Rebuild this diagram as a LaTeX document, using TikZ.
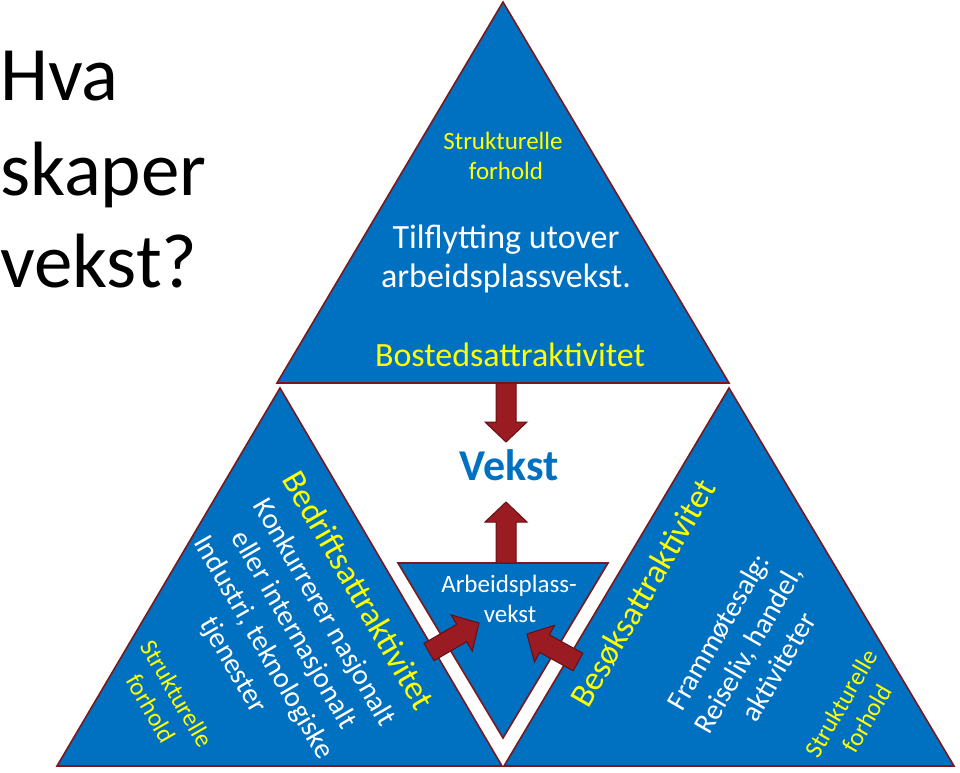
\documentclass[tikz,border=0pt]{standalone}
\usepackage{fontspec}
\setmainfont{Carlito}
\usetikzlibrary{calc}
\definecolor{triblue}{RGB}{0,112,192}
\definecolor{triedge}{RGB}{120,25,30}
\definecolor{arfill}{RGB}{155,27,35}
\definecolor{aredge}{RGB}{100,15,20}
\definecolor{ylw}{RGB}{255,255,0}
\newcommand\myblockarrow[2]{%
  \coordinate (hb) at ($(#2)!20pt!(#1)$);
  \path[blockarrow] ($(#1)!10pt!90:(#2)$) -- ($(hb)!10pt!90:(#2)$) -- ($(hb)!21pt!90:(#2)$) -- (#2) -- ($(hb)!21pt!-90:(#2)$) -- ($(hb)!10pt!-90:(#2)$) -- ($(#1)!10pt!-90:(#2)$) -- cycle;}
\begin{document}
\begin{tikzpicture}[x=1pt,y=-1pt,
  tri/.style={fill=triblue,draw=triedge,line width=1.6pt,line join=miter},
  blockarrow/.style={fill=arfill,draw=aredge,line width=1pt,line join=miter},
  ylwtxt/.style={text=ylw,inner sep=0pt,align=center},
  whttxt/.style={text=white,inner sep=0pt,align=center},
  title/.style={anchor=base west,inner sep=0pt,font=\fontsize{77}{85}\selectfont},
  big/.style={font=\fontsize{34}{40}\selectfont},
  mid/.style={font=\fontsize{29}{35}\selectfont},
  small/.style={font=\fontsize{25}{30}\selectfont}]
\useasboundingbox (0,0) rectangle (960,772);
% triangles
\path[tri] (503,2) -- (729,383) -- (277,383) -- cycle;
\path[tri] (280,388) -- (502,766) -- (57,766) -- cycle;
\path[tri] (729,388) -- (954,766) -- (504,766) -- cycle;
\path[tri] (398,563) -- (608,563) -- (503,738) -- cycle;
% title
\node[title] (hva) at (0,100) {Hva};
\node[title] (skaper) at (0,195) {skaper};
\node[title] (vekstq) at (0,287) {vekst?};
% top triangle
\node[ylwtxt,small,anchor=base] (sftop1) at (503,149) {Strukturelle};
\node[ylwtxt,small,anchor=base] (sftop2) at (506,179) {forhold};
\node[whttxt,big,anchor=base] (tilf1) at (506,248) {Tilflytting utover};
\node[whttxt,big,anchor=base] (tilf2) at (506,287) {arbeidsplassvekst.};
\node[ylwtxt,big,anchor=base] (bosted) at (510,366) {Bostedsattraktivitet};
% centre
\node[text=triblue,inner sep=0pt,anchor=base,font=\fontsize{44}{50}\selectfont\bfseries] (vekst) at (509,480) {Vekst};
\node[whttxt,small,anchor=base] (arb1) at (509,592) {Arbeidsplass-};
\node[whttxt,small,anchor=base] (arb2) at (510,622) {vekst};
% left triangle
\node[ylwtxt,big,rotate=-60] (bedrift) at (359,590) {Bedriftsattraktivitet};
\node[whttxt,mid,rotate=-60] (bedtxt) at (278,639) {Konkurrerer nasjonalt\\eller internasjonalt\\Industri, teknologiske\\tjenester};
\node[ylwtxt,small,rotate=-60] (sfleft) at (164,701) {Strukturelle\\forhold};
% right triangle
\node[ylwtxt,big,rotate=60] (besok) at (643,593) {Besøksattraktivitet};
\node[whttxt,mid,rotate=60] (bestxt) at (748,649) {Frammøtesalg:\\Reiseliv, handel,\\aktiviteter};
\node[ylwtxt,small,rotate=60] (sfright) at (854,711) {Strukturelle\\forhold};
% arrows
\coordinate (a1s) at (506,383); \coordinate (a1e) at (506,442);
\coordinate (a2s) at (506,563); \coordinate (a2e) at (506,502);
\coordinate (a3s) at (429,652); \coordinate (a3e) at (479,623);
\coordinate (a4s) at (578,662); \coordinate (a4e) at (527,634);
\myblockarrow{a1s}{a1e}
\myblockarrow{a2s}{a2e}
\myblockarrow{a3s}{a3e}
\myblockarrow{a4s}{a4e}
\end{tikzpicture}
\end{document}
